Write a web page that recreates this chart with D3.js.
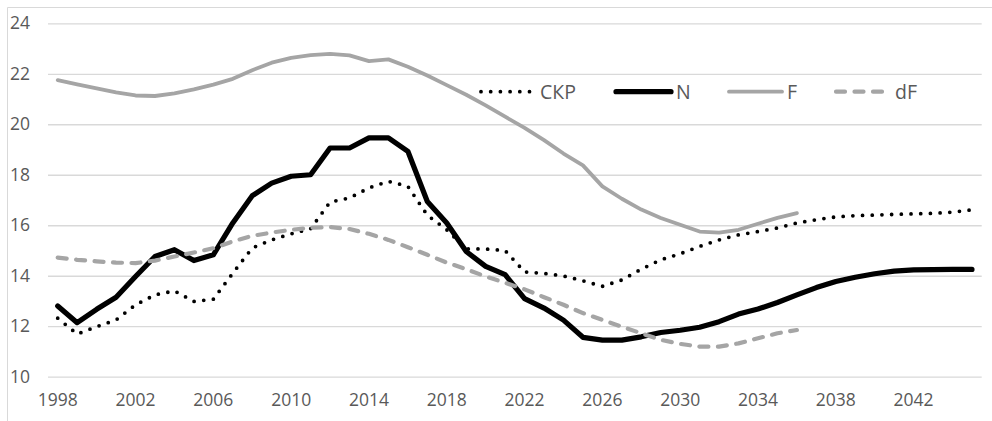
<!DOCTYPE html>
<html>
<head>
<meta charset="utf-8">
<script src="https://cdn.jsdelivr.net/npm/d3@7"></script>
<style>
  html, body { margin: 0; padding: 0; background: #fff; }
  svg { display: block; }
</style>
</head>
<body>
<svg id="chart" width="992" height="421"></svg>
<script>
const years = d3.range(1998, 2046);
const yTicks = [10, 12, 14, 16, 18, 20, 22, 24];
const xTickLabels = [1998, 2002, 2006, 2010, 2014, 2018, 2022, 2026, 2030, 2034, 2038, 2042];
const seriesNames = ["СКР", "N", "F", "dF"];

const ckp = [12.32, 11.69, 11.98, 12.25, 12.85, 13.24, 13.40, 12.98, 13.07, 14.10,
  15.10, 15.42, 15.66, 15.86, 16.92, 17.08, 17.48, 17.74, 17.54, 16.40,
  15.82, 15.06, 15.06, 15.00, 14.15, 14.09, 13.99, 13.80, 13.58, 13.83,
  14.26, 14.63, 14.87, 15.16, 15.42, 15.62, 15.75, 15.89, 16.09, 16.22,
  16.33, 16.38, 16.40, 16.43, 16.45, 16.47, 16.52, 16.61];
const n = [12.80, 12.14, 12.67, 13.15, 13.97, 14.76, 15.03, 14.60, 14.83, 16.09,
  17.17, 17.67, 17.94, 18.00, 19.06, 19.06, 19.46, 19.46, 18.93, 16.94,
  16.09, 14.96, 14.37, 14.04, 13.09, 12.72, 12.24, 11.56, 11.45, 11.45,
  11.58, 11.75, 11.84, 11.96, 12.18, 12.48, 12.68, 12.94, 13.24, 13.53,
  13.77, 13.94, 14.08, 14.18, 14.23, 14.24, 14.25, 14.25];
const f = [21.75, 21.58, 21.42, 21.26, 21.14, 21.12, 21.22, 21.38, 21.57, 21.80,
  22.14, 22.44, 22.63, 22.74, 22.79, 22.73, 22.50, 22.57, 22.28, 21.93,
  21.55, 21.17, 20.75, 20.30, 19.86, 19.37, 18.84, 18.37, 17.54, 17.05,
  16.62, 16.29, 16.02, 15.75, 15.71, 15.82, 16.06, 16.29, 16.48];
const dF = [14.72, 14.63, 14.57, 14.52, 14.50, 14.60, 14.76, 14.92, 15.09, 15.36,
  15.58, 15.71, 15.82, 15.90, 15.93, 15.85, 15.66, 15.42, 15.13, 14.83,
  14.52, 14.26, 13.97, 13.72, 13.46, 13.15, 12.85, 12.52, 12.25, 11.98,
  11.72, 11.46, 11.30, 11.19, 11.19, 11.32, 11.52, 11.72, 11.85];

const svg = d3.select("#chart");
const font = "'Open Sans', 'Noto Sans', sans-serif";

// chart border (left and top)
svg.append("path")
  .attr("d", "M7.5,421 V7.5 H992")
  .attr("fill", "none").attr("stroke", "#d9d9d9").attr("stroke-width", 1);

const x = d3.scaleBand().domain(years).range([48, 981.7]).paddingInner(0).paddingOuter(0);
const y = d3.scaleLinear().domain([10, 24]).range([376.7, 23.3]);
const cx = yr => x(yr) + x.bandwidth() / 2;

// gridlines + y labels
const yAxis = svg.append("g")
  .attr("transform", "translate(48,0)")
  .call(d3.axisLeft(y).tickValues(yTicks).tickSize(-(981.7 - 48)).tickPadding(18).tickFormat(d3.format("d")));
yAxis.select(".domain").remove();
yAxis.selectAll(".tick line").attr("stroke", "#d9d9d9").attr("stroke-width", 1.3);
yAxis.selectAll(".tick text")
  .attr("fill", "#595959").attr("font-family", font).attr("font-size", "17.5px");

// x labels
const xAxis = svg.append("g")
  .attr("transform", "translate(0,376.7)")
  .call(d3.axisBottom(x).tickValues(xTickLabels).tickSize(0).tickPadding(17));
xAxis.select(".domain").remove();
xAxis.selectAll(".tick text")
  .attr("fill", "#595959").attr("font-family", font).attr("font-size", "17.5px");

const styles = [
  { data: ckp, color: "#000", width: 3.8, dash: "0,9.7", cap: "round" },
  { data: n, color: "#000", width: 5.2, dash: null, cap: "round" },
  { data: f, color: "#a5a5a5", width: 3.8, dash: null, cap: "round" },
  { data: dF, color: "#a5a5a5", width: 4.2, dash: "9,9.5", cap: "round" }
];

const line = d3.line()
  .defined(d => d.v != null)
  .x(d => cx(d.yr))
  .y(d => y(d.v));

styles.forEach(s => {
  const pts = s.data.map((v, i) => ({ yr: years[i], v: v }));
  svg.append("path")
    .datum(pts)
    .attr("d", line)
    .attr("fill", "none")
    .attr("stroke", s.color)
    .attr("stroke-width", s.width)
    .attr("stroke-linecap", s.cap)
    .attr("stroke-linejoin", "round")
    .attr("stroke-dasharray", s.dash);
});

// legend
const legendItems = [
  { name: seriesNames[0], x0: 481, x1: 530, tx: 540 },
  { name: seriesNames[1], x0: 616, x1: 671, tx: 676 },
  { name: seriesNames[2], x0: 729, x1: 782, tx: 787 },
  { name: seriesNames[3], x0: 836, x1: 886, tx: 895 }
];
const lg = svg.append("g");
legendItems.forEach((it, i) => {
  const s = styles[i];
  lg.append("line")
    .attr("x1", it.x0).attr("x2", it.x1).attr("y1", 91.7).attr("y2", 91.7)
    .attr("stroke", s.color).attr("stroke-width", s.width)
    .attr("stroke-linecap", s.cap).attr("stroke-dasharray", s.dash);
  lg.append("text")
    .attr("x", it.tx).attr("y", 98.5)
    .attr("fill", "#595959").attr("font-family", font).attr("font-size", "19.5px")
    .text(it.name);
});
</script>
</body>
</html>
